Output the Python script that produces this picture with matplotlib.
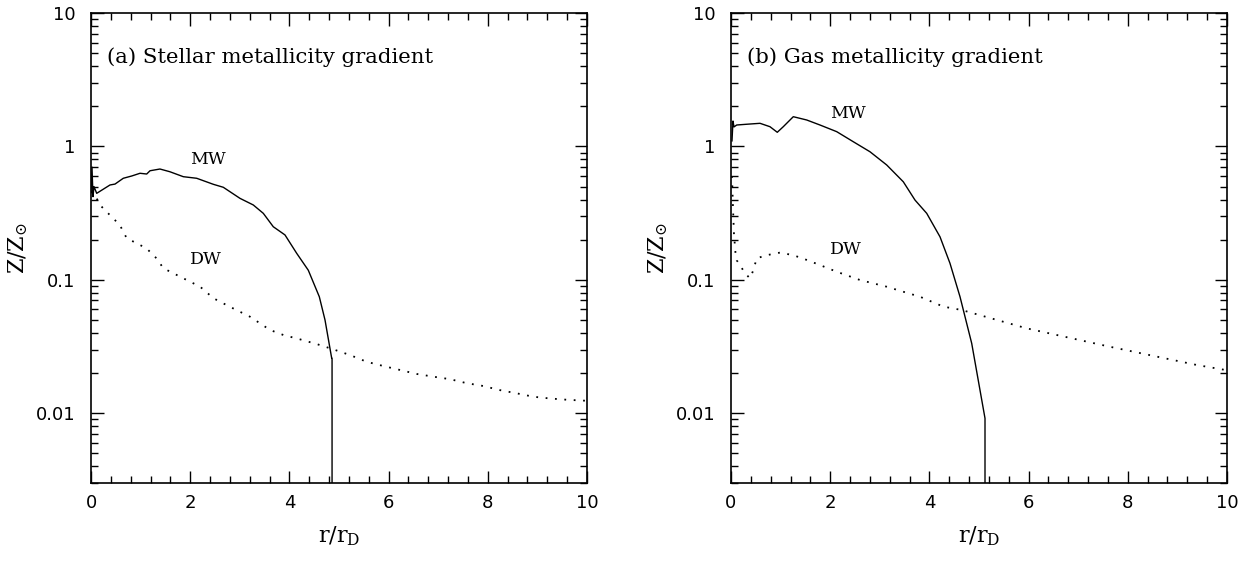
import matplotlib
matplotlib.use("Agg")
import matplotlib.pyplot as plt
from matplotlib.ticker import MultipleLocator, LogLocator, FixedLocator, FuncFormatter, NullFormatter

plt.rcParams["mathtext.fontset"] = "dejavuserif"

# ---- data: panel (a) stellar metallicity ----
a_mw_r = [0.0, 0.02, 0.04, 0.06, 0.115, 0.383, 0.484, 0.651, 0.82, 0.988, 1.123, 1.19, 1.39, 1.59,
          1.861, 2.131, 2.466, 2.667, 3.004, 3.272, 3.474, 3.675, 3.911, 4.147, 4.381, 4.603,
          4.718, 4.853, 4.86, 4.86]
a_mw_z = [0.45, 0.70, 0.42, 0.50, 0.445, 0.514, 0.522, 0.577, 0.600, 0.629, 0.621, 0.657, 0.677, 0.646,
          0.593, 0.577, 0.520, 0.494, 0.408, 0.364, 0.315, 0.250, 0.217, 0.158, 0.118, 0.0747,
          0.050, 0.0258, 0.0258, 1e-4]
a_dw_r = [0.0, 0.08, 0.18, 0.38, 0.58, 0.72, 0.92, 1.12, 1.32, 1.46, 1.66, 1.93, 2.20, 2.47, 2.80,
          3.206, 3.609, 3.877, 4.214, 4.55, 4.819, 5.222, 5.558, 5.893, 6.23, 6.567, 6.901,
          7.238, 7.575, 7.909, 8.246, 8.583, 8.917, 9.254, 9.623, 10.0]
a_dw_z = [0.46, 0.432, 0.364, 0.306, 0.258, 0.205, 0.188, 0.172, 0.145, 0.122, 0.112, 0.0997,
          0.0888, 0.0727, 0.0628, 0.0529, 0.0421, 0.0386, 0.0358, 0.0330, 0.0307, 0.0273, 0.0243,
          0.0226, 0.0211, 0.0197, 0.0188, 0.0180, 0.0168, 0.0160, 0.0149, 0.0141, 0.0133, 0.0129,
          0.0126, 0.0124]

# ---- data: panel (b) gas metallicity ----
b_mw_r = [0.02, 0.04, 0.06, 0.115, 0.317, 0.585, 0.786, 0.933, 1.054, 1.256, 1.526, 1.794, 2.131,
          2.466, 2.802, 3.139, 3.474, 3.71, 3.946, 4.214, 4.415, 4.617, 4.853, 5.121, 5.121]
b_mw_z = [1.10, 1.55, 1.40, 1.447, 1.466, 1.49, 1.405, 1.276, 1.405, 1.67, 1.578, 1.447, 1.29,
          1.084, 0.912, 0.726, 0.543, 0.396, 0.315, 0.210, 0.133, 0.0747, 0.0334, 0.00916, 1e-4]
b_dw_r = [0.02, 0.04, 0.06, 0.09, 0.115, 0.147, 0.181, 0.282, 0.383, 0.45, 0.518, 0.72, 0.988,
          1.256, 1.526, 1.794, 2.131, 2.6, 3.139, 3.474, 3.81, 4.28, 4.65, 5.96, 7.64, 9.39, 10.0]
b_dw_z = [0.60, 0.35, 0.22, 0.16, 0.14, 0.135, 0.129, 0.112, 0.1026, 0.118, 0.145, 0.153, 0.160,
          0.153, 0.141, 0.129, 0.115, 0.0997, 0.0888, 0.0814, 0.0747, 0.063, 0.0594, 0.0433,
          0.0315, 0.023, 0.021]

panel_titles = ["(a) Stellar metallicity gradient", "(b) Gas metallicity gradient"]
x_ticks = [0, 2, 4, 6, 8, 10]
y_ticks = [0.01, 0.1, 1, 10]

serif = ["DejaVu Serif"]

fig = plt.figure(figsize=(12.42, 5.67), dpi=100)
ax1 = fig.add_axes([91 / 1242, 84 / 567, 496 / 1242, 470 / 567])
ax2 = fig.add_axes([731 / 1242, 84 / 567, 496 / 1242, 470 / 567])

panels = [
    (ax1, a_mw_r, a_mw_z, a_dw_r, a_dw_z, panel_titles[0], (2.0, 0.80), (2.0, 0.142)),
    (ax2, b_mw_r, b_mw_z, b_dw_r, b_dw_z, panel_titles[1], (2.0, 1.78), (2.0, 0.168)),
]

for ax, mr, mz, dr, dz, title, mwpos, dwpos in panels:
    ax.plot(mr, mz, color="black", lw=1.0, solid_joinstyle="round")
    ax.plot(dr, dz, color="black", lw=1.3, linestyle=(0, (1, 4.2)))
    ax.set_yscale("log")
    ax.set_xlim(0, 10)
    ax.set_ylim(0.003, 10)
    ax.xaxis.set_major_locator(FixedLocator(x_ticks))
    ax.xaxis.set_minor_locator(MultipleLocator(0.4))
    ax.yaxis.set_major_locator(FixedLocator(y_ticks))
    ax.yaxis.set_minor_locator(LogLocator(base=10, subs=range(2, 10), numticks=20))
    ax.yaxis.set_major_formatter(FuncFormatter(lambda v, p: "%g" % v))
    ax.yaxis.set_minor_formatter(NullFormatter())
    ax.tick_params(which="both", direction="in", top=True, right=True, width=1.0, color="black")
    ax.tick_params(which="major", length=9)
    ax.tick_params(which="minor", length=5)
    ax.tick_params(axis="y", which="major", pad=11, labelsize=13)
    ax.tick_params(axis="x", which="major", pad=8, labelsize=13)
    for s in ax.spines.values():
        s.set_linewidth(1.2)
    ax.text(0.032, 0.905, title, transform=ax.transAxes, fontsize=15.3, family=serif,
            ha="left", va="center")
    ax.text(mwpos[0], mwpos[1], "MW", fontsize=12.5, family=serif, ha="left", va="center")
    ax.text(dwpos[0], dwpos[1], "DW", fontsize=12.5, family=serif, ha="left", va="center")
    ax.set_xlabel(r"$\mathrm{r/r_D}$", fontsize=16)
    ax.set_ylabel(r"$\mathrm{Z/Z_{\odot}}$", fontsize=16)
    ax.xaxis.set_label_coords(0.5, -0.088)
    ax.yaxis.set_label_coords(-0.123, 0.5)

fig.savefig("out.png", dpi=100)
